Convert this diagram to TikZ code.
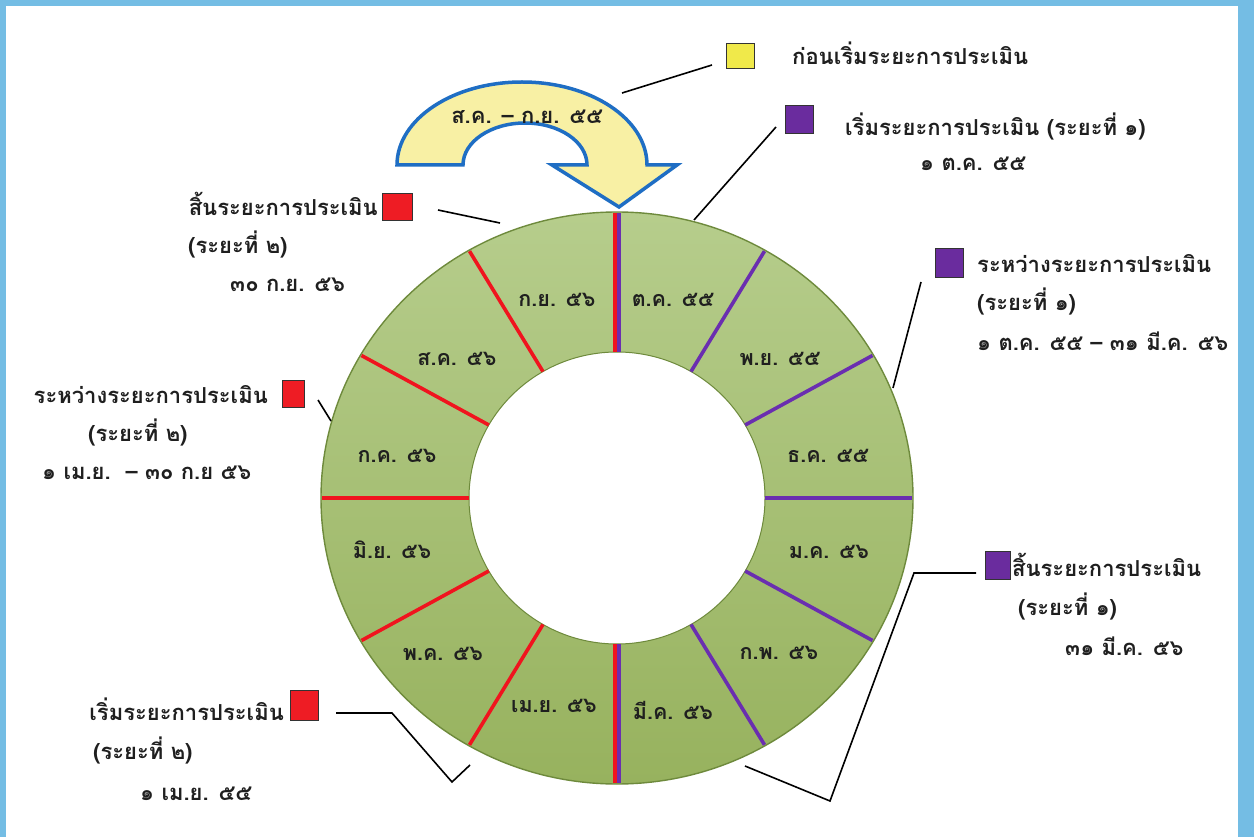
\documentclass[tikz,border=0pt]{standalone}
\usepackage{fontspec}
\newfontfamily\thai[Script=Thai]{Loma}
\usetikzlibrary{calc}
\definecolor{frameblue}{HTML}{74BDE4}
\definecolor{ringA}{HTML}{B6CD8C}
\definecolor{ringB}{HTML}{97B25E}
\definecolor{ringedge}{HTML}{6E8A3C}
\definecolor{segred}{HTML}{F0141E}
\definecolor{segpurple}{HTML}{6A2EB0}
\definecolor{boxyellow}{HTML}{F0E94A}
\definecolor{boxpurple}{HTML}{6A2C9E}
\definecolor{boxred}{HTML}{EE1C24}
\definecolor{arrowfill}{HTML}{F8F0A4}
\definecolor{arrowblue}{HTML}{1F6EC4}
\tikzset{
  lbl/.style={font=\thai\bfseries\fontsize{22}{26}\selectfont, inner sep=0pt, text=black!88},
  mon/.style={font=\thai\bfseries\fontsize{21.5}{26}\selectfont, inner sep=0pt, text=black!88, anchor=base},
  keybox/.style={draw=black!80, line width=0.8pt},
  conn/.style={draw=black, line width=1.6pt},
  redline/.style={draw=segred, line width=3.6pt},
  purpline/.style={draw=segpurple, line width=3.6pt},
}
\begin{document}
\begin{tikzpicture}[x=1pt,y=-1pt]
\useasboundingbox (0,0) rectangle (1254,837);
\fill[frameblue] (0,0) rectangle (1254,837);
\fill[white] (6,6) rectangle (1238,837);

% ring
\coordinate (C) at (617,498);
\shade[top color=ringA,bottom color=ringB,even odd rule] (C) ellipse[x radius=296pt,y radius=286pt] (C) ellipse[x radius=148pt,y radius=146pt];
\draw[ringedge,line width=1.4pt] (C) ellipse[x radius=296pt,y radius=286pt];
\draw[ringedge,line width=1pt] (C) ellipse[x radius=148pt,y radius=146pt];
\foreach \a in {120,150,180,210,240}
  \draw[redline] ($(C)+(\a:148pt and 146pt)$) -- ($(C)+(\a:295pt and 285pt)$);
\foreach \a in {60,30,0,-30,-60}
  \draw[purpline] ($(C)+(\a:148pt and 146pt)$) -- ($(C)+(\a:295pt and 285pt)$);
\draw[redline] ($(C)+(90:148pt and 146pt)+(-2pt,0)$) -- ($(C)+(90:285pt and 285pt)+(-2pt,0)$);
\draw[purpline] ($(C)+(90:148pt and 146pt)+(2pt,0)$) -- ($(C)+(90:285pt and 285pt)+(2pt,0)$);
\draw[redline] ($(C)+(-90:148pt and 146pt)+(-2pt,0)$) -- ($(C)+(-90:285pt and 285pt)+(-2pt,0)$);
\draw[purpline] ($(C)+(-90:148pt and 146pt)+(2pt,0)$) -- ($(C)+(-90:285pt and 285pt)+(2pt,0)$);

% month labels
\node[mon] (m09) at (557,306) {ก.ย. ๕๖};
\node[mon] (m10) at (673,306) {ต.ค. ๕๕};
\node[mon] (m11) at (780,366) {พ.ย. ๕๕};
\node[mon] (m08) at (457,366) {ส.ค. ๕๖};
\node[mon] (m07) at (397,462) {ก.ค. ๕๖};
\node[mon] (m12) at (828,462) {ธ.ค. ๕๕};
\node[mon] (m06) at (392,558) {มิ.ย. ๕๖};
\node[mon] (m01) at (829,558) {ม.ค. ๕๖};
\node[mon] (m05) at (443,660) {พ.ค. ๕๖};
\node[mon] (m02) at (779,659) {ก.พ. ๕๖};
\node[mon] (m04) at (554,712) {เม.ย. ๕๖};
\node[mon] (m03) at (673,719) {มี.ค. ๕๖};

% curved arrow
\draw[arrowblue,fill=arrowfill,line width=3.5pt,line join=miter]
  (397,165) arc[start angle=180,end angle=0,x radius=125pt,y radius=83pt]
  -- (677,165) -- (619,207) -- (552,165) -- (587,165)
  arc[start angle=0,end angle=180,x radius=62pt,y radius=42pt] -- cycle;
\node[lbl,anchor=base] (arrtxt) at (527,124) {ส.ค. – ก.ย. ๕๕};

% key boxes
\path[keybox,fill=boxyellow] (726,43) rectangle (754,68);
\coordinate (yboxL) at (712,65);
\path[keybox,fill=boxpurple] (785,105) rectangle (813,133);
\coordinate (p1L) at (776,127);
\path[keybox,fill=boxpurple] (935,248) rectangle (963,277);
\coordinate (p2L) at (921,282);
\path[keybox,fill=boxpurple] (985,551) rectangle (1010,579);
\coordinate (p3L) at (976,573);
\path[keybox,fill=boxred] (382,193) rectangle (412,220);
\coordinate (r1R) at (438,210);
\path[keybox,fill=boxred] (282,380) rectangle (304,407);
\coordinate (r2R) at (318,400);
\path[keybox,fill=boxred] (290,690) rectangle (318,720);
\coordinate (r3R) at (336,713);

% texts right
\node[lbl,anchor=base west] (t1) at (792,65) {ก่อนเริ่มระยะการประเมิน};
\node[lbl,anchor=base west] (t2a) at (845,136) {เริ่มระยะการประเมิน (ระยะที่ ๑)};
\node[lbl,anchor=base west] (t2b) at (920,171) {๑ ต.ค. ๕๕};
\node[lbl,anchor=base west] (t3a) at (977,273) {ระหว่างระยะการประเมิน};
\node[lbl,anchor=base west] (t3b) at (977,311) {(ระยะที่ ๑)};
\node[lbl,anchor=base west] (t3c) at (977,350) {๑ ต.ค. ๕๕ – ๓๑ มี.ค. ๕๖};
\node[lbl,anchor=base west] (t4a) at (1012,576) {สิ้นระยะการประเมิน};
\node[lbl,anchor=base west] (t4b) at (1018,615) {(ระยะที่ ๑)};
\node[lbl,anchor=base west] (t4c) at (1065,655) {๓๑ มี.ค. ๕๖};
% texts left
\node[lbl,anchor=base east] (l1a) at (378,216) {สิ้นระยะการประเมิน};
\node[lbl,anchor=base west] (l1b) at (188,254) {(ระยะที่ ๒)};
\node[lbl,anchor=base west] (l1c) at (230,292) {๓๐ ก.ย. ๕๖};
\node[lbl,anchor=base east] (l2a) at (268,403) {ระหว่างระยะการประเมิน};
\node[lbl,anchor=base west] (l2b) at (88,441) {(ระยะที่ ๒)};
\node[lbl,anchor=base west] (l2c) at (42,479) {๑ เม.ย.\ \ – ๓๐ ก.ย ๕๖};
\node[lbl,anchor=base east] (l3a) at (284,720) {เริ่มระยะการประเมิน};
\node[lbl,anchor=base west] (l3b) at (93,759) {(ระยะที่ ๒)};
\node[lbl,anchor=base west] (l3c) at (140,800) {๑ เม.ย. ๕๕};

% connector anchor points on the figure
\coordinate (aY) at (622,93);
\coordinate (a1) at (694,220);
\coordinate (a2) at (893,388);
\coordinate (a3) at (745,766);
\coordinate (k3) at (830,801);
\coordinate (j3) at (914,573);
\coordinate (b1) at (500,223);
\coordinate (b2) at (331,421);
\coordinate (q3) at (392,713);
\coordinate (k4) at (452,782);
\coordinate (b3) at (470,765);

\draw[conn] (aY) -- (yboxL);
\draw[conn] (a1) -- (p1L);
\draw[conn] (a2) -- (p2L);
\draw[conn] (a3) -- (k3) -- (j3) -- (p3L);
\draw[conn] (r1R) -- (b1);
\draw[conn] (r2R) -- (b2);
\draw[conn] (r3R) -- (q3) -- (k4) -- (b3);
\end{tikzpicture}
\end{document}
